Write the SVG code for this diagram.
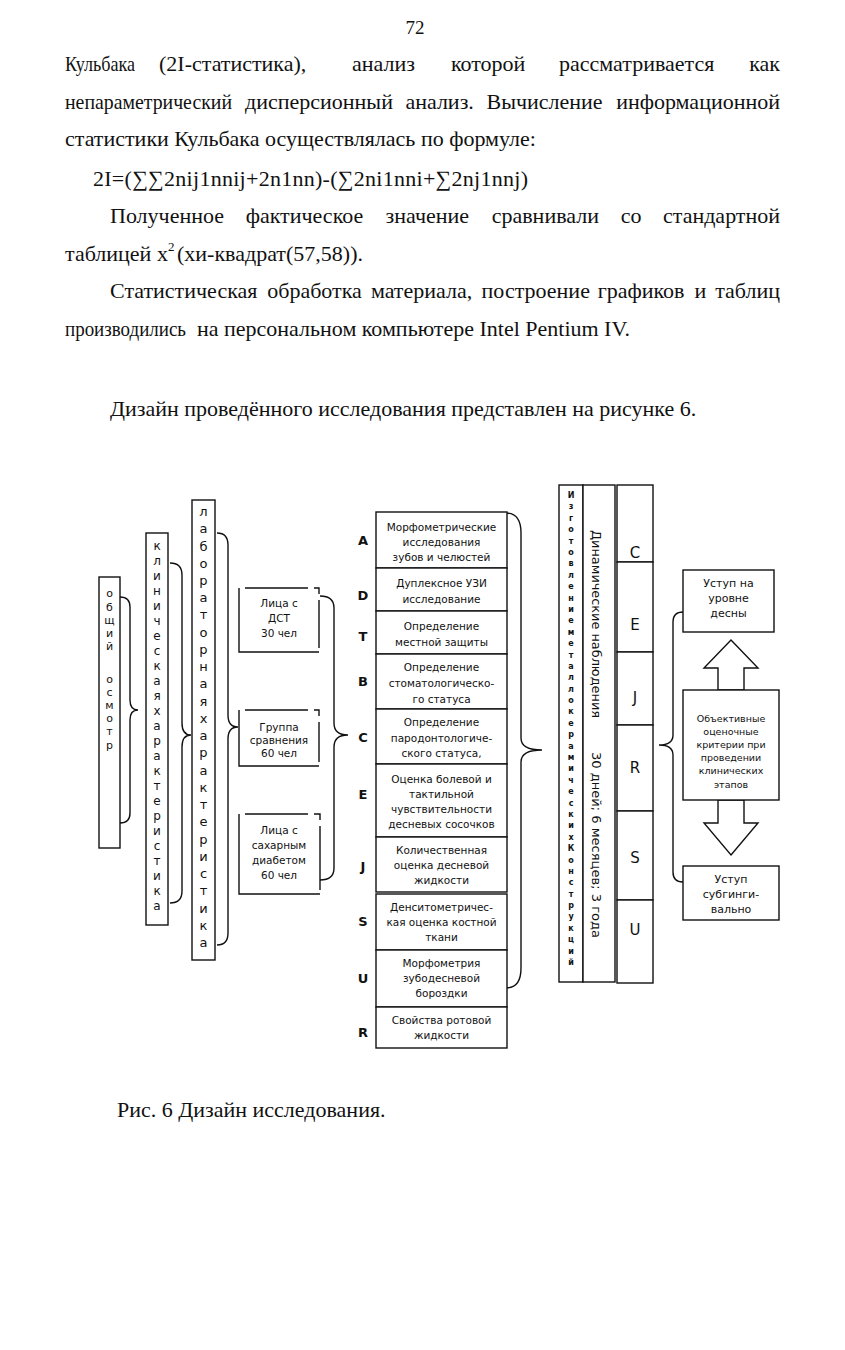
<svg xmlns="http://www.w3.org/2000/svg" width="845" height="1350" viewBox="0 0 845 1350">
<style>
.body{font-family:"Liberation Serif","Times New Roman",serif;font-size:22px;fill:#111}
.d{font-family:"DejaVu Sans",Verdana,sans-serif;font-size:10.5px;text-anchor:middle;fill:#111}
.d11{font-family:"DejaVu Sans",Verdana,sans-serif;font-size:11px;text-anchor:middle;fill:#111}
.s{font-family:"DejaVu Sans",Verdana,sans-serif;font-size:9.5px;text-anchor:middle;fill:#111}
.lt{font-family:"DejaVu Sans",Verdana,sans-serif;font-weight:bold;font-size:13px;text-anchor:middle;fill:#111}
.v{font-family:"DejaVu Sans",Verdana,sans-serif;text-anchor:middle;fill:#111}
.rot{font-family:"DejaVu Sans",Verdana,sans-serif;font-size:13px;fill:#111}
.cell{font-family:"DejaVu Sans",Verdana,sans-serif;font-size:15px;text-anchor:middle;fill:#111}
.box{fill:#fff;stroke:#111;stroke-width:1.4}
.ln{fill:none;stroke:#111;stroke-width:1.4}
</style>
<rect width="845" height="1350" fill="#fff"/>

<g id="page-text">
<text class="body" x="415" y="34" text-anchor="middle" style="font-size:19px">72</text>
<text class="body" y="71"><tspan x="65" textLength="70" lengthAdjust="spacingAndGlyphs">Кульбака</tspan><tspan x="159">(2I-статистика),</tspan><tspan x="352">анализ</tspan><tspan x="451">которой</tspan><tspan x="559">рассматривается</tspan><tspan x="780" text-anchor="end">как</tspan></text>
<text class="body" y="109"><tspan x="65" textLength="167" lengthAdjust="spacingAndGlyphs">непараметрический</tspan><tspan x="245">дисперсионный</tspan><tspan x="405.4">анализ.</tspan><tspan x="486.5">Вычисление</tspan><tspan x="780" text-anchor="end">информационной</tspan></text>
<text class="body" x="65" y="146">статистики Кульбака осуществлялась по формуле:</text>
<text class="body" x="93" y="186" textLength="435" lengthAdjust="spacing">2I=(∑∑2nij1nnij+2n1nn)-(∑2ni1nni+∑2nj1nnj)</text>
<text class="body" y="223"><tspan x="110">Полученное</tspan><tspan x="245.7">фактическое</tspan><tspan x="385.6">значение</tspan><tspan x="491.7">сравнивали</tspan><tspan x="620.7">со</tspan><tspan x="780" text-anchor="end">стандартной</tspan></text>
<text class="body" y="261"><tspan x="65">таблицей</tspan><tspan x="157">x</tspan><tspan x="168" y="251" style="font-size:13px">2</tspan><tspan x="177" y="261">(хи-квадрат(57,58)).</tspan></text>
<text class="body" y="298"><tspan x="110">Статистическая</tspan><tspan x="267.2">обработка</tspan><tspan x="370.9">материала,</tspan><tspan x="481.6">построение</tspan><tspan x="597.7">графиков</tspan><tspan x="694.4">и</tspan><tspan x="780" text-anchor="end">таблиц</tspan></text>
<text class="body" y="336"><tspan x="65" textLength="121" lengthAdjust="spacingAndGlyphs">производились</tspan><tspan x="630" text-anchor="end">на персональном компьютере Intel Pentium IV.</tspan></text>
<text class="body" x="110" y="416">Дизайн проведённого исследования представлен на рисунке 6.</text>
<text class="body" x="117" y="1117">Рис. 6 Дизайн исследования.</text>
</g>

<g id="connectors">
<path class="ln" d="M120 597 Q130 597 130 607 V700 Q130 710 138 710 Q130 710 130 720 V813 Q130 823 120 823"/>
<path class="ln" d="M170 563 Q182 563 182 575 V723 Q182 735 191 735 Q182 735 182 747 V891 Q182 903 170 903"/>
<path class="ln" d="M217 533 Q228 533 228 545 V715 Q228 727 238 727 Q228 727 228 739 V933 Q228 945 217 945"/>
<path class="ln" d="M320 596 Q334 596 334 608 V723 Q334 735 348 735 Q334 735 334 747 V868 Q334 880 320 880"/>
<path class="ln" d="M506 513 Q521 513 521 533 V738 Q521 750 542 750 Q521 750 521 762 V968 Q521 988 506 988"/>
<path class="ln" d="M683 612 Q673 612 673 622 V735 Q673 745 659 745 Q673 745 673 755 V872 Q673 882 683 882"/>
</g>

<g id="node-obshchiy">
<rect class="box" x="99" y="577" width="21" height="271"/>
<text class="v" font-size="11"><tspan x="109.5" y="597">о</tspan><tspan x="109.5" y="611">б</tspan><tspan x="109.5" y="624">щ</tspan><tspan x="109.5" y="637">и</tspan><tspan x="109.5" y="650">й</tspan><tspan x="109.5" y="683">о</tspan><tspan x="109.5" y="696">с</tspan><tspan x="109.5" y="709">м</tspan><tspan x="109.5" y="722">о</tspan><tspan x="109.5" y="735">т</tspan><tspan x="109.5" y="749">р</tspan></text>
</g>

<g id="node-klin">
<rect class="box" x="146" y="533" width="22" height="392"/>
<text class="v" font-size="12"><tspan x="157" y="550">к</tspan><tspan x="157" y="565">л</tspan><tspan x="157" y="580">и</tspan><tspan x="157" y="595">н</tspan><tspan x="157" y="610">и</tspan><tspan x="157" y="625">ч</tspan><tspan x="157" y="640">е</tspan><tspan x="157" y="655">с</tspan><tspan x="157" y="670">к</tspan><tspan x="157" y="685">а</tspan><tspan x="157" y="700">я</tspan><tspan x="157" y="715">х</tspan><tspan x="157" y="730">а</tspan><tspan x="157" y="745">р</tspan><tspan x="157" y="760">а</tspan><tspan x="157" y="775">к</tspan><tspan x="157" y="790">т</tspan><tspan x="157" y="805">е</tspan><tspan x="157" y="820">р</tspan><tspan x="157" y="835">и</tspan><tspan x="157" y="850">с</tspan><tspan x="157" y="865">т</tspan><tspan x="157" y="880">и</tspan><tspan x="157" y="895">к</tspan><tspan x="157" y="910">а</tspan></text>
</g>

<g id="node-lab">
<rect class="box" x="192" y="500" width="23" height="460"/>
<text class="v" font-size="13"><tspan x="203.5" y="516">л</tspan><tspan x="203.5" y="533">а</tspan><tspan x="203.5" y="551">б</tspan><tspan x="203.5" y="568">о</tspan><tspan x="203.5" y="585">р</tspan><tspan x="203.5" y="602">а</tspan><tspan x="203.5" y="619">т</tspan><tspan x="203.5" y="637">о</tspan><tspan x="203.5" y="654">р</tspan><tspan x="203.5" y="671">н</tspan><tspan x="203.5" y="688">а</tspan><tspan x="203.5" y="706">я</tspan><tspan x="203.5" y="723">х</tspan><tspan x="203.5" y="740">а</tspan><tspan x="203.5" y="757">р</tspan><tspan x="203.5" y="775">а</tspan><tspan x="203.5" y="792">к</tspan><tspan x="203.5" y="809">т</tspan><tspan x="203.5" y="826">е</tspan><tspan x="203.5" y="844">р</tspan><tspan x="203.5" y="861">и</tspan><tspan x="203.5" y="878">с</tspan><tspan x="203.5" y="895">т</tspan><tspan x="203.5" y="913">и</tspan><tspan x="203.5" y="930">к</tspan><tspan x="203.5" y="947">а</tspan></text>
</g>

<g id="node-dst">
<path class="ln" d="M245 588 H308 M314 588 H319 V594 M319 600 V648 M319 652 H239 V588"/>
<text class="d"><tspan x="279" y="607">Лица с</tspan><tspan x="279" y="622">ДСТ</tspan><tspan x="279" y="637">30 чел</tspan></text>
</g>
<g id="node-gruppa">
<path class="ln" d="M245 710 H308 M314 710 H319 V716 M319 722 V762 M319 766 H239 V710"/>
<text class="d"><tspan x="279" y="731">Группа</tspan><tspan x="279" y="744">сравнения</tspan><tspan x="279" y="757">60 чел</tspan></text>
</g>
<g id="node-diabet">
<path class="ln" d="M245 814 H308 M314 814 H320 V820 M320 826 V890 M320 894 H239 V814"/>
<text class="d"><tspan x="279" y="834">Лица с</tspan><tspan x="279" y="849">сахарным</tspan><tspan x="279" y="864">диабетом</tspan><tspan x="279" y="879">60 чел</tspan></text>
</g>

<g id="node-A">
<rect class="box" x="376" y="512" width="131" height="56"/>
<text class="lt" x="363" y="545">A</text>
<text class="d"><tspan x="441.5" y="531">Морфометрические</tspan><tspan x="441.5" y="546">исследования</tspan><tspan x="441.5" y="561">зубов и челюстей</tspan></text>
</g>
<g id="node-D">
<rect class="box" x="376" y="568" width="131" height="43"/>
<text class="lt" x="363" y="600">D</text>
<text class="d"><tspan x="441.5" y="587">Дуплексное УЗИ</tspan><tspan x="441.5" y="603">исследование</tspan></text>
</g>
<g id="node-T">
<rect class="box" x="376" y="611" width="131" height="43"/>
<text class="lt" x="363" y="641">T</text>
<text class="d"><tspan x="441.5" y="630">Определение</tspan><tspan x="441.5" y="646">местной защиты</tspan></text>
</g>
<g id="node-B">
<rect class="box" x="376" y="654" width="131" height="55"/>
<text class="lt" x="363" y="686">B</text>
<text class="d"><tspan x="441.5" y="671">Определение</tspan><tspan x="441.5" y="687">стоматологическо-</tspan><tspan x="441.5" y="703">го статуса</tspan></text>
</g>
<g id="node-C">
<rect class="box" x="376" y="709" width="131" height="55"/>
<text class="lt" x="363" y="742">C</text>
<text class="d"><tspan x="441.5" y="726">Определение</tspan><tspan x="441.5" y="742">пародонтологиче-</tspan><tspan x="441.5" y="757">ского статуса,</tspan></text>
</g>
<g id="node-E">
<rect class="box" x="376" y="764" width="131" height="73"/>
<text class="lt" x="363" y="799">E</text>
<text class="d"><tspan x="441.5" y="783">Оценка болевой и</tspan><tspan x="441.5" y="798">тактильной</tspan><tspan x="441.5" y="813">чувствительности</tspan><tspan x="441.5" y="828">десневых сосочков</tspan></text>
</g>
<g id="node-J">
<rect class="box" x="376" y="837" width="131" height="55"/>
<text class="lt" x="363" y="871">J</text>
<text class="d"><tspan x="441.5" y="854">Количественная</tspan><tspan x="441.5" y="869">оценка десневой</tspan><tspan x="441.5" y="884">жидкости</tspan></text>
</g>
<g id="node-S">
<rect class="box" x="376" y="894" width="131" height="56"/>
<text class="lt" x="363" y="926">S</text>
<text class="d"><tspan x="441.5" y="911">Денситометричес-</tspan><tspan x="441.5" y="926">кая оценка костной</tspan><tspan x="441.5" y="941">ткани</tspan></text>
</g>
<g id="node-U">
<rect class="box" x="376" y="950" width="131" height="57"/>
<text class="lt" x="363" y="983">U</text>
<text class="d"><tspan x="441.5" y="967">Морфометрия</tspan><tspan x="441.5" y="982">зубодесневой</tspan><tspan x="441.5" y="997">бороздки</tspan></text>
</g>
<g id="node-R">
<rect class="box" x="376" y="1007" width="131" height="41"/>
<text class="lt" x="363" y="1037">R</text>
<text class="d"><tspan x="441.5" y="1024">Свойства ротовой</tspan><tspan x="441.5" y="1039">жидкости</tspan></text>
</g>

<g id="node-izgotovlenie">
<rect class="box" x="559" y="485" width="24" height="497"/>
<text class="v" font-size="8" font-weight="bold"><tspan x="571" y="498">И</tspan><tspan x="571" y="509">з</tspan><tspan x="571" y="521">г</tspan><tspan x="571" y="532">о</tspan><tspan x="571" y="544">т</tspan><tspan x="571" y="555">о</tspan><tspan x="571" y="566">в</tspan><tspan x="571" y="578">л</tspan><tspan x="571" y="589">е</tspan><tspan x="571" y="601">н</tspan><tspan x="571" y="612">и</tspan><tspan x="571" y="623">е</tspan><tspan x="571" y="635">м</tspan><tspan x="571" y="646">е</tspan><tspan x="571" y="658">т</tspan><tspan x="571" y="669">а</tspan><tspan x="571" y="680">л</tspan><tspan x="571" y="692">л</tspan><tspan x="571" y="703">о</tspan><tspan x="571" y="714">к</tspan><tspan x="571" y="726">е</tspan><tspan x="571" y="737">р</tspan><tspan x="571" y="749">а</tspan><tspan x="571" y="760">м</tspan><tspan x="571" y="771">и</tspan><tspan x="571" y="783">ч</tspan><tspan x="571" y="794">е</tspan><tspan x="571" y="806">с</tspan><tspan x="571" y="817">к</tspan><tspan x="571" y="828">и</tspan><tspan x="571" y="840">х</tspan><tspan x="571" y="851">К</tspan><tspan x="571" y="863">о</tspan><tspan x="571" y="874">н</tspan><tspan x="571" y="885">с</tspan><tspan x="571" y="897">т</tspan><tspan x="571" y="908">р</tspan><tspan x="571" y="919">у</tspan><tspan x="571" y="931">к</tspan><tspan x="571" y="942">ц</tspan><tspan x="571" y="954">и</tspan><tspan x="571" y="965">й</tspan></text>
</g>

<g id="node-dinamicheskie">
<rect class="box" x="583" y="485" width="32" height="497"/>
<text class="rot" transform="translate(592,530) rotate(90)" textLength="188" lengthAdjust="spacingAndGlyphs">Динамические наблюдения</text>
<text class="rot" transform="translate(592,752) rotate(90)" textLength="186" lengthAdjust="spacingAndGlyphs">30 дней; 6 месяцев; 3 года</text>
</g>

<g id="node-stages">
<rect class="box" x="617" y="485" width="36" height="77"/>
<rect class="box" x="617" y="562" width="36" height="90"/>
<rect class="box" x="617" y="652" width="36" height="73"/>
<rect class="box" x="617" y="725" width="36" height="86"/>
<rect class="box" x="617" y="811" width="36" height="89"/>
<rect class="box" x="617" y="900" width="36" height="83"/>
<text class="cell" x="635" y="558">C</text>
<text class="cell" x="635" y="630">E</text>
<text class="cell" x="635" y="703">J</text>
<text class="cell" x="635" y="773">R</text>
<text class="cell" x="635" y="863">S</text>
<text class="cell" x="635" y="935">U</text>
</g>

<g id="node-ustup-top">
<rect class="box" x="683" y="570" width="91" height="62"/>
<text class="d11"><tspan x="728.5" y="587">Уступ на</tspan><tspan x="728.5" y="602">уровне</tspan><tspan x="728.5" y="617">десны</tspan></text>
</g>

<g id="node-arrow">
<polygon class="box" points="731,640 758,668 744,668 744,690 718,690 718,668 704,668"/>
<polygon class="box" points="731,855 758,823 744,823 744,800 718,800 718,823 704,823"/>
<rect class="box" x="683" y="690" width="96" height="110"/>
<text class="s"><tspan x="731" y="722">Объективные</tspan><tspan x="731" y="735">оценочные</tspan><tspan x="731" y="748">критерии при</tspan><tspan x="731" y="761">проведении</tspan><tspan x="731" y="774">клинических</tspan><tspan x="731" y="788">этапов</tspan></text>
</g>

<g id="node-ustup-bottom">
<rect class="box" x="683" y="866" width="96" height="54"/>
<text class="d11"><tspan x="731" y="883">Уступ</tspan><tspan x="731" y="898">субгинги-</tspan><tspan x="731" y="913">вально</tspan></text>
</g>
</svg>
